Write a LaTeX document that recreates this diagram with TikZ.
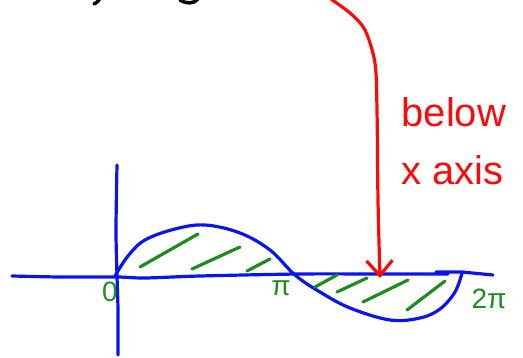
\documentclass[tikz,border=0pt]{standalone}
\usepackage{fontspec}
\setmainfont{Liberation Sans}
\usetikzlibrary{arrows.meta}
\definecolor{penblue}{RGB}{10,20,240}
\definecolor{penred}{RGB}{250,10,10}
\definecolor{pengreen}{RGB}{30,140,30}
\definecolor{penblack}{RGB}{0,0,0}
\tikzset{
  every picture/.style={line width=3.2pt, line cap=round, line join=round},
  % Stifte
  axisline/.style={penblue},
  graph/.style={penblue},
  hatch/.style={pengreen},
  pointer/.style={penred, -{Straight Barb[length=15pt,width=26pt,line width=3.2pt]}},
  % Beschriftung
  note/.style={penred, font=\fontsize{40}{44}\selectfont, inner sep=0pt, anchor=west},
  tick/.style={pengreen, font=\fontsize{28}{30}\selectfont, inner sep=0pt},
}
\begin{document}
\begin{tikzpicture}[x=1pt, y=-1pt]
  \useasboundingbox (0,0) rectangle (523,358);
  % abgeschnittene Schrift am oberen Rand
  \draw[penblack, line width=3.5pt] (100,-4) .. controls (99,1) .. (94,4);
  \draw[penblack, line width=3.5pt] (180,0) .. controls (186,4) and (194,4) .. (198,-1);
  % Achsen
  \draw[axisline] plot[smooth] coordinates {(12,276) (60,277) (117,277) (145,278) (200,276) (300,274) (380,274) (448,274)};
  \draw[axisline] (436,272) -- (462,272) -- (493,275);
  \draw[axisline] plot[smooth] coordinates {(117,165) (116,230) (117,276) (118,310) (118,355)};
  % sin x von 0 bis 2 pi
  \draw[graph] plot[smooth, tension=0.6] coordinates {(115,276) (128,256) (145,240)
    (175,229) (205,225) (240,233) (270,250) (295,275) (320,292) (350,308)
    (390,320) (420,318) (440,309) (455,292) (462,273)};
  % Schraffur der Flaechen
  \foreach \xa/\ya/\xb/\yb in {140/267/198/234, 192/269/240/247, 247/271/270/259,
      315/287/337/275, 337/292/367/278, 363/302/408/280, 407/310/445/281} {
    \draw[hatch] (\xa,\ya) -- (\xb,\yb);
  }
  % Stellen auf der x-Achse
  \node[tick] (zero) at (110,292) {0};
  \node[tick] (pi) at (281,288) {π};
  \node[tick] (twopi) at (489,299) {2π};
  % Hinweis: unterhalb der x-Achse
  \node[note] (below) at (400,112) {below};
  \node[note] (xaxis) at (400,170) {x axis};
  \coordinate (start) at (328,-3);
  \coordinate (tip) at (380,278);
  \draw[pointer] plot[smooth] coordinates {(start) (350,13) (365,30) (375,63) (377,110) (378,200) (tip)};
\end{tikzpicture}
\end{document}
